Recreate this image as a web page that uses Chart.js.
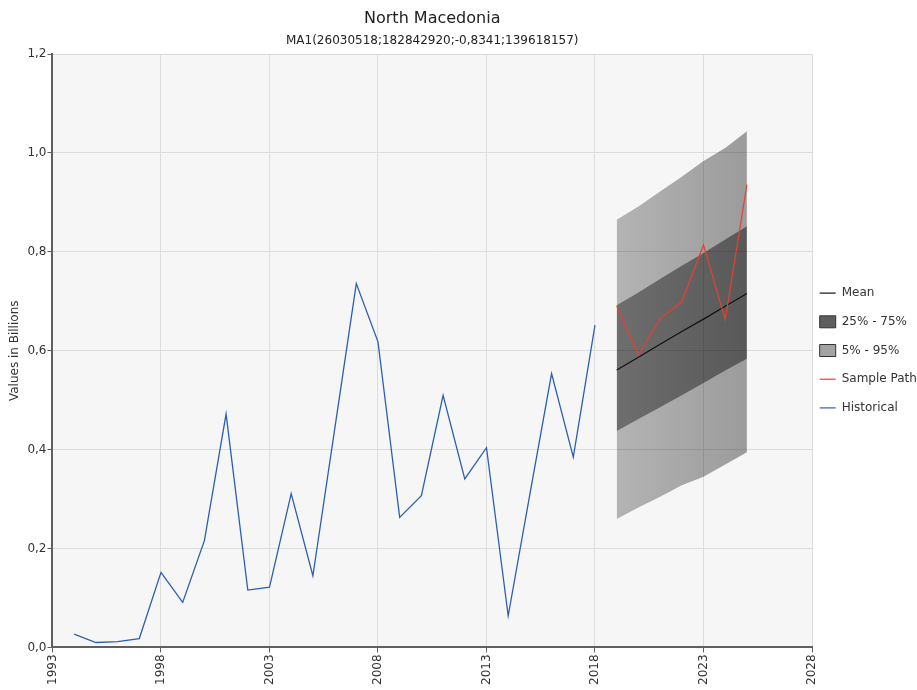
<!DOCTYPE html>
<html>
<head>
<meta charset="utf-8">
<script src="https://cdn.jsdelivr.net/npm/chart.js@4"></script>
<style>
    html, body { margin: 0; padding: 0; background: #ffffff; }
    #wrap { width: 917px; height: 690px; position: relative; }
</style>
</head>
<body>
<div id="wrap"><canvas id="forecastChart"></canvas></div>
<script>
// Historical values (billions)
const histYears = [1994, 1995, 1996, 1997, 1998, 1999, 2000, 2001, 2002, 2003, 2004, 2005, 2006,
    2007, 2008, 2009, 2010, 2011, 2012, 2013, 2014, 2015, 2016, 2017, 2018];
const histValues = [0.027, 0.010, 0.012, 0.018, 0.152, 0.091, 0.216, 0.472, 0.116, 0.122, 0.311, 0.145, 0.44,
    0.736, 0.618, 0.263, 0.307, 0.510, 0.341, 0.404, 0.064, 0.31, 0.554, 0.385, 0.652];

// Forecast
const fcYears = [2019, 2020, 2021, 2022, 2023, 2024, 2025];
const meanValues = [0.561, 0.587, 0.613, 0.639, 0.664, 0.690, 0.716];
const p25Values = [0.438, 0.462, 0.486, 0.510, 0.535, 0.560, 0.584];
const p75Values = [0.692, 0.718, 0.745, 0.772, 0.798, 0.825, 0.852];
const p05Values = [0.260, 0.283, 0.305, 0.328, 0.345, 0.370, 0.395];
const p95Values = [0.865, 0.892, 0.922, 0.952, 0.984, 1.010, 1.044];
const sampleValues = [0.691, 0.592, 0.665, 0.699, 0.814, 0.663, 0.936];

const xTicks = [1993, 1998, 2003, 2008, 2013, 2018, 2023, 2028];

const FONT = 'DejaVu Sans';
const colors = {
    mean: '#111111',
    sample: '#e8402e',
    historical: '#2b5fb3',
    text: '#333333',
    axis: '#606060',
    grid: '#dcdcdc',
    plotBg: '#f6f6f6'
};

function pts(xs, ys) {
    return xs.map((x, i) => ({ x: x, y: ys[i] }));
}

// horizontal gradient across the forecast range
function bandGradient(a0, a1) {
    return function (context) {
        const chart = context.chart;
        const x = chart.scales.x;
        if (!chart.chartArea || !x) return 'rgba(0,0,0,' + a0 + ')';
        const g = chart.ctx.createLinearGradient(x.getPixelForValue(fcYears[0]), 0,
            x.getPixelForValue(fcYears[fcYears.length - 1]), 0);
        g.addColorStop(0, 'rgba(0,0,0,' + a0 + ')');
        g.addColorStop(1, 'rgba(0,0,0,' + a1 + ')');
        return g;
    };
}

const plotBackground = {
    id: 'plotBackground',
    afterLayout(chart) {
        // pull the legend a bit closer to the plot and lower it
        if (chart.legend) {
            chart.legend.left -= 9;
            chart.legend.top += 7;
            chart.legend.bottom += 7;
        }
    },
    beforeDraw(chart) {
        const a = chart.chartArea;
        const ctx = chart.ctx;
        ctx.save();
        ctx.fillStyle = colors.plotBg;
        ctx.fillRect(a.left, a.top, a.right - a.left, a.bottom - a.top);
        ctx.restore();
    }
};

const ctx = document.getElementById('forecastChart');
new Chart(ctx, {
    type: 'line',
    data: {
        datasets: [
            { // 0
                label: '5% - 95%',
                data: pts(fcYears, p95Values),
                borderWidth: 0,
                pointRadius: 0,
                fill: 1,
                backgroundColor: bandGradient(0.27, 0.37),
                order: 10
            },
            { // 1
                label: 'p05',
                data: pts(fcYears, p05Values),
                borderWidth: 0,
                pointRadius: 0,
                fill: false,
                order: 11
            },
            { // 2
                label: '25% - 75%',
                data: pts(fcYears, p75Values),
                borderWidth: 0,
                pointRadius: 0,
                fill: 3,
                backgroundColor: bandGradient(0.39, 0.43),
                order: 8
            },
            { // 3
                label: 'p25',
                data: pts(fcYears, p25Values),
                borderWidth: 0,
                pointRadius: 0,
                fill: false,
                order: 9
            },
            { // 4
                label: 'Mean',
                data: pts(fcYears, meanValues),
                borderColor: colors.mean,
                borderWidth: 1.2,
                pointRadius: 0,
                fill: false,
                order: 3
            },
            { // 5
                label: 'Sample Path',
                data: pts(fcYears, sampleValues),
                borderColor: colors.sample,
                borderWidth: 1.2,
                pointRadius: 0,
                fill: false,
                order: 2
            },
            { // 6
                label: 'Historical',
                data: pts(histYears, histValues),
                borderColor: colors.historical,
                borderWidth: 1.3,
                pointRadius: 0,
                fill: false,
                order: 1
            }
        ]
    },
    options: {
        responsive: true,
        maintainAspectRatio: false,
        animation: false,
        layout: {
            padding: { left: 8, right: 0, top: 0, bottom: 3 }
        },
        plugins: {
            title: {
                display: true,
                text: 'North Macedonia',
                color: '#222222',
                fullSize: false,
                font: { family: FONT, size: 16, weight: 'normal' },
                padding: { top: 9.5, bottom: 2 }
            },
            subtitle: {
                display: true,
                text: 'MA1(26030518;182842920;-0,8341;139618157)',
                color: '#222222',
                fullSize: false,
                font: { family: FONT, size: 12, weight: 'normal' },
                padding: { top: 3, bottom: 6 }
            },
            legend: {
                position: 'right',
                maxWidth: 105,
                labels: {
                    usePointStyle: true,
                    pointStyleWidth: 16,
                    boxWidth: 16,
                    boxHeight: 14,
                    padding: 16.7,
                    color: colors.text,
                    font: { family: FONT, size: 12 },
                    generateLabels: function () {
                        return [
                            { text: 'Mean', pointStyle: 'line', strokeStyle: colors.mean, fillStyle: colors.mean, lineWidth: 1.2, datasetIndex: 4, fontColor: colors.text },
                            { text: '25% - 75%', pointStyle: 'rect', strokeStyle: '#333333', fillStyle: '#5e5e5e', lineWidth: 1, datasetIndex: 2, fontColor: colors.text },
                            { text: '5% - 95%', pointStyle: 'rect', strokeStyle: '#333333', fillStyle: '#a3a3a3', lineWidth: 1, datasetIndex: 0, fontColor: colors.text },
                            { text: 'Sample Path', pointStyle: 'line', strokeStyle: colors.sample, fillStyle: colors.sample, lineWidth: 1.2, datasetIndex: 5, fontColor: colors.text },
                            { text: 'Historical', pointStyle: 'line', strokeStyle: colors.historical, fillStyle: colors.historical, lineWidth: 1.2, datasetIndex: 6, fontColor: colors.text }
                        ];
                    }
                },
                onClick: null
            },
            tooltip: { enabled: false }
        },
        scales: {
            x: {
                type: 'linear',
                min: 1993,
                max: 2028,
                afterBuildTicks: function (scale) {
                    scale.ticks = xTicks.map(v => ({ value: v }));
                },
                grid: {
                    color: colors.grid,
                    tickColor: colors.axis,
                    tickLength: 5
                },
                border: { color: colors.axis, width: 2 },
                ticks: {
                    minRotation: 90,
                    maxRotation: 90,
                    color: colors.text,
                    font: { family: FONT, size: 12 },
                    padding: 2,
                    callback: v => String(v)
                }
            },
            y: {
                min: 0,
                max: 1.2,
                grid: {
                    color: colors.grid,
                    tickColor: colors.axis,
                    tickLength: 5
                },
                border: { color: colors.axis, width: 2 },
                ticks: {
                    stepSize: 0.2,
                    color: colors.text,
                    font: { family: FONT, size: 12 },
                    padding: 1,
                    callback: v => v.toFixed(1).replace('.', ',')
                },
                title: {
                    display: true,
                    text: 'Values in Billions',
                    color: colors.text,
                    font: { family: FONT, size: 12 },
                    padding: { top: 0, bottom: 4 }
                }
            }
        }
    },
    plugins: [plotBackground]
});
</script>
</body>
</html>
